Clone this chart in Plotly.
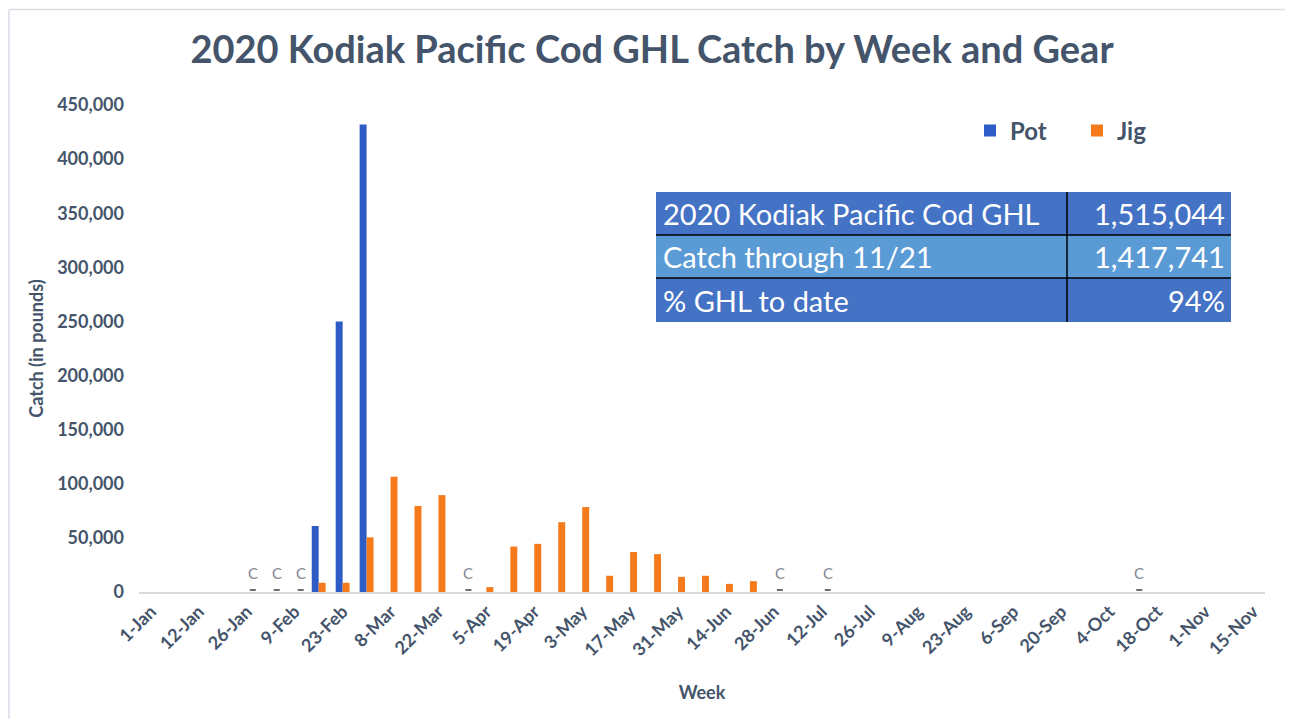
import plotly.graph_objects as go

# ---------------- data ----------------
weeks = ["1-Jan", "5-Jan", "12-Jan", "19-Jan", "26-Jan", "2-Feb", "9-Feb", "16-Feb",
         "23-Feb", "1-Mar", "8-Mar", "15-Mar", "22-Mar", "29-Mar", "5-Apr", "12-Apr",
         "19-Apr", "26-Apr", "3-May", "10-May", "17-May", "24-May", "31-May", "7-Jun",
         "14-Jun", "21-Jun", "28-Jun", "5-Jul", "12-Jul", "19-Jul", "26-Jul", "2-Aug",
         "9-Aug", "16-Aug", "23-Aug", "30-Aug", "6-Sep", "13-Sep", "20-Sep", "27-Sep",
         "4-Oct", "11-Oct", "18-Oct", "25-Oct", "1-Nov", "8-Nov", "15-Nov"]
tick_labels = ["1-Jan", "12-Jan", "26-Jan", "9-Feb", "23-Feb", "8-Mar", "22-Mar", "5-Apr",
               "19-Apr", "3-May", "17-May", "31-May", "14-Jun", "28-Jun", "12-Jul", "26-Jul",
               "9-Aug", "23-Aug", "6-Sep", "20-Sep", "4-Oct", "18-Oct", "1-Nov", "15-Nov"]

pot_weeks = ["16-Feb", "23-Feb", "1-Mar"]
pot_values = [61000, 250000, 432000]

jig_weeks = ["16-Feb", "23-Feb", "1-Mar", "8-Mar", "15-Mar", "22-Mar", "5-Apr", "12-Apr",
             "19-Apr", "26-Apr", "3-May", "10-May", "17-May", "24-May", "31-May", "7-Jun",
             "14-Jun", "21-Jun"]
jig_values = [8500, 8500, 50500, 106500, 79500, 89500, 4500, 42000,
              44500, 64500, 78500, 15000, 37000, 35000, 14000, 15000,
              7500, 10000]

conf_weeks = ["26-Jan", "2-Feb", "9-Feb", "29-Mar", "28-Jun", "12-Jul", "11-Oct"]
conf_text = ["C", "C", "C", "C", "C", "C", "C"]

table_labels = ["2020 Kodiak Pacific Cod GHL", "Catch through 11/21", "% GHL to date"]
table_values = ["1,515,044", "1,417,741", "94%"]
table_fills = ["#4472C4", "#5B9BD5", "#4472C4"]

# ---------------- layout geometry (page pixels; page has an 8px body margin) ----------------
OFF = 8
W, H = 1293 - OFF, 719 - OFF
PL, PR, PT, PB = 139, 1265, 105, 592          # plot area in page pixels
L, T = PL - OFF, PT - OFF
R, B = W - (PR - OFF), H - (PB - OFF)
PW, PH = W - L - R, H - T - B


def px(x):
    return (x - OFF - L) / PW


def py(y):
    return (H - B - (y - OFF)) / PH


TXT = "#44546A"
FONT = "Lato, 'Open Sans', sans-serif"

fig = go.Figure()
fig.add_trace(go.Bar(name="Pot", x=pot_weeks, y=pot_values,
                     marker=dict(color="#2D5CC6", line=dict(width=0))))
fig.add_trace(go.Bar(name="Jig", x=jig_weeks, y=jig_values,
                     marker=dict(color="#F47A1C", line=dict(width=0))))

shapes = []
annotations = []
# confidential weeks: "C" label with a small dash on the axis
for wk, t in zip(conf_weeks, conf_text):
    annotations.append(dict(x=wk, y=0, xref="x", yref="y", text=t, showarrow=False,
                            xanchor="center", yanchor="bottom", xshift=6, yshift=8,
                            font=dict(family=FONT, size=15, color="#7F8793")))
    shapes.append(dict(type="line", xref="x", yref="y", xsizemode="pixel", xanchor=wk,
                       x0=3, x1=9, ysizemode="pixel", yanchor=0, y0=2, y1=2,
                       line=dict(color="#6F6F6F", width=2)))

# summary table
row_y = [192, 235, 278, 322]
tx0, tx1, tdiv = 656, 1231, 1067
for i in range(3):
    shapes.append(dict(type="rect", xref="paper", yref="paper",
                       x0=px(tx0), x1=px(tx1), y0=py(row_y[i + 1]), y1=py(row_y[i]),
                       fillcolor=table_fills[i], line=dict(width=0), layer="above"))
    yc = py((row_y[i] + row_y[i + 1]) / 2)
    annotations.append(dict(xref="paper", yref="paper", x=px(661), y=yc,
                            xanchor="left", yanchor="middle", showarrow=False,
                            text=table_labels[i],
                            font=dict(family=FONT, size=29, color="white")))
    annotations.append(dict(xref="paper", yref="paper", x=px(1227), y=yc,
                            xanchor="right", yanchor="middle", showarrow=False,
                            text=table_values[i],
                            font=dict(family=FONT, size=29, color="white")))
for yy in row_y[1:3]:
    shapes.append(dict(type="line", xref="paper", yref="paper",
                       x0=px(tx0), x1=px(tx1), y0=py(yy), y1=py(yy),
                       line=dict(color="black", width=1.5), layer="above"))
shapes.append(dict(type="line", xref="paper", yref="paper",
                   x0=px(tdiv), x1=px(tdiv), y0=py(row_y[3]), y1=py(row_y[0]),
                   line=dict(color="black", width=1.5), layer="above"))
# chart border (top and left edges)
shapes.append(dict(type="line", xref="paper", yref="paper",
                   x0=px(9), x1=px(1300), y0=py(9.5), y1=py(9.5),
                   line=dict(color="#D9DEE6", width=1.5)))
shapes.append(dict(type="line", xref="paper", yref="paper",
                   x0=px(9), x1=px(9), y0=py(9.5), y1=py(730),
                   line=dict(color="#D9DEE6", width=1.5)))

fig.update_layout(
    width=W, height=H,
    margin=dict(l=L, r=R, t=T, b=B, autoexpand=False),
    paper_bgcolor="white", plot_bgcolor="white",
    title=dict(text="<b>2020 Kodiak Pacific Cod GHL Catch by Week and Gear</b>",
               x=px(652), xref="paper", xanchor="center",
               y=1 - (50 - OFF) / H, yanchor="middle",
               font=dict(family=FONT, size=38, color=TXT)),
    barmode="group", bargap=0.42, bargroupgap=0,
    showlegend=True,
    legend=dict(orientation="h", x=px(970), y=py(131), xanchor="left", yanchor="middle",
                font=dict(family=FONT, size=24, color=TXT, weight="bold"),
                entrywidth=62, entrywidthmode="pixels", bgcolor="rgba(0,0,0,0)",
                itemclick=False),
    font=dict(family=FONT, color=TXT),
    shapes=shapes, annotations=annotations,
)
fig.update_xaxes(type="category", categoryorder="array", categoryarray=weeks,
                 range=[-0.5, len(weeks) - 0.5],
                 tickmode="array", tickvals=tick_labels, ticktext=tick_labels,
                 tickangle=-45, tickfont=dict(family=FONT, size=18, color=TXT, weight="bold"),
                 showline=True, linecolor="#D9D9D9", linewidth=2, ticks="",
                 showgrid=False, zeroline=False,
                 title=dict(text="<b>Week</b>", font=dict(family=FONT, size=18, color=TXT),
                            standoff=27))
fig.update_yaxes(range=[0, 450000], tickmode="linear", tick0=0, dtick=50000,
                 tickformat=",", showgrid=False, zeroline=False, showline=False,
                 tickfont=dict(family=FONT, size=18, color=TXT, weight="bold"),
                 ticklabelstandoff=14,
                 title=dict(text="<b>Catch (in pounds)</b>",
                            font=dict(family=FONT, size=18, color=TXT), standoff=8))

fig.write_html("out.html")
